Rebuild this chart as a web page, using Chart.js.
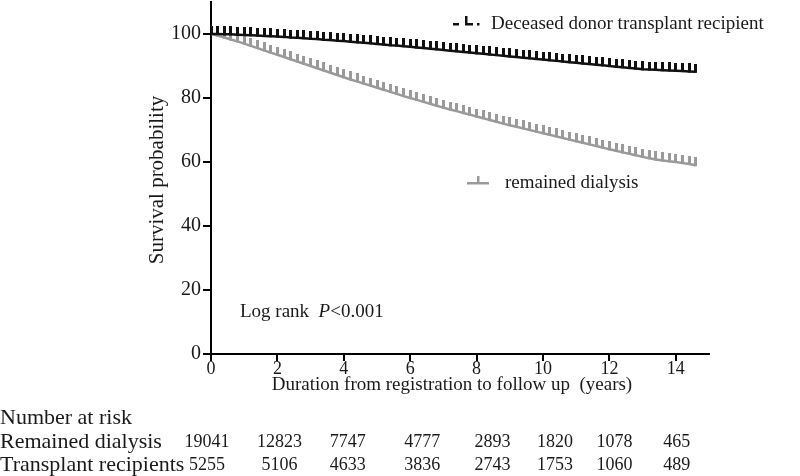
<!DOCTYPE html>
<html>
<head>
<meta charset="utf-8">
<script src="https://cdn.jsdelivr.net/npm/chart.js@4.4.1/dist/chart.umd.min.js"></script>
<style>
html,body{margin:0;padding:0;background:#fff;}
#wrap{width:800px;height:476px;position:relative;}
</style>
</head>
<body>
<div id="wrap"><canvas id="c" width="800" height="476"></canvas></div>
<script>
// ---- data ----
const years = [0,0.2,0.4,0.6,0.8,1.0,1.2,1.4,1.6,1.8,2.0,2.2,2.4,2.6,2.8,3.0,3.2,3.4,3.6,3.8,4.0,4.2,4.4,4.6,4.8,5.0,5.2,5.4,5.6,5.8,6.0,6.2,6.4,6.6,6.8,7.0,7.2,7.4,7.6,7.8,8.0,8.2,8.4,8.6,8.8,9.0,9.2,9.4,9.6,9.8,10.0,10.2,10.4,10.6,10.8,11.0,11.2,11.4,11.6,11.8,12.0,12.2,12.4,12.6,12.8,13.0,13.2,13.4,13.6,13.8,14.0,14.2,14.4,14.6];
const transplantSurvival = [100.0,100.0,99.9,99.9,99.8,99.7,99.6,99.5,99.4,99.3,99.2,99.1,98.9,98.8,98.7,98.5,98.4,98.2,98.1,97.9,97.8,97.6,97.4,97.3,97.1,96.9,96.7,96.5,96.4,96.2,96.0,95.8,95.6,95.4,95.2,95.0,94.8,94.6,94.4,94.2,94.0,93.8,93.6,93.4,93.2,93.0,92.8,92.6,92.4,92.2,92.0,91.8,91.6,91.4,91.2,91.0,90.8,90.6,90.4,90.2,90.0,89.8,89.6,89.4,89.2,89.0,88.9,88.8,88.7,88.6,88.5,88.4,88.3,88.2];
const dialysisSurvival = [100.0,99.5,98.9,98.3,97.7,97.0,96.3,95.6,94.9,94.2,93.5,92.8,92.1,91.4,90.7,90.0,89.3,88.6,87.9,87.2,86.5,85.8,85.2,84.5,83.9,83.2,82.6,81.9,81.3,80.6,80.0,79.4,78.8,78.2,77.6,77.0,76.4,75.9,75.3,74.8,74.2,73.7,73.1,72.6,72.0,71.5,71.0,70.5,70.0,69.5,69.0,68.5,68.0,67.5,67.0,66.5,66.0,65.5,65.0,64.5,64.0,63.5,63.0,62.6,62.1,61.6,61.2,60.8,60.5,60.2,60.0,59.7,59.4,59.0];
const xTicks = [0,2,4,6,8,10,12,14];
const yTicks = [0,20,40,60,80,100];
const atRiskDialysis = [19041,12823,7747,4777,2893,1820,1078,465];
const atRiskTransplant = [5255,5106,4633,3836,2743,1753,1060,489];
const seriesNames = ["Deceased donor transplant recipient","remained dialysis"];
const rowNames = ["Remained dialysis","Transplant recipients"];

// layout-only: horizontal nudges of the at-risk columns relative to their tick (px)
const colNudge = [-4,2,4,12,16,12,5,1];

const FONT = '"Liberation Serif", "Times New Roman", serif';
const TXT = '#1a1a1a';
const BLACK = '#111111';
const GRAY = '#9a9a9a';

function tickImage(color, w, h){
  const cv = document.createElement('canvas');
  cv.width = w; cv.height = h * 2;
  const g = cv.getContext('2d');
  g.fillStyle = color;
  g.fillRect(0, 0, w, h + 1);
  return cv;
}

const pts = (ys) => years.map((x, i) => ({x: x, y: ys[i]}));

const textPlugin = {
  id: 'texts',
  afterDraw(chart){
    const ctx = chart.ctx;
    const xs = chart.scales.x;
    ctx.save();
    ctx.fillStyle = TXT;
    ctx.textBaseline = 'middle';
    // y axis title
    ctx.save();
    ctx.translate(157, 180);
    ctx.rotate(-Math.PI/2);
    ctx.textAlign = 'center';
    ctx.font = '21px ' + FONT;
    ctx.fillText('Survival probability', 0, 0);
    ctx.restore();
    // x axis title
    ctx.textAlign = 'center';
    ctx.font = '19px ' + FONT;
    ctx.fillText('Duration from registration to follow up  (years)', 452, 385);
    // number at risk table
    ctx.font = '22px ' + FONT;
    ctx.textAlign = 'left';
    ctx.fillText('Number at risk', 0, 418);
    ctx.fillText(rowNames[0], 0, 442);
    ctx.fillText(rowNames[1], 0, 465);
    ctx.textAlign = 'center';
    ctx.font = '18px ' + FONT;
    xTicks.forEach((t, i) => {
      const px = xs.getPixelForValue(t) + colNudge[i];
      ctx.fillText(String(atRiskDialysis[i]), px, 442);
      ctx.fillText(String(atRiskTransplant[i]), px, 465);
    });
    // log rank
    ctx.textAlign = 'left';
    ctx.font = '19px ' + FONT;
    let lx = 240;
    ctx.fillText('Log rank  ', lx, 312);
    lx += ctx.measureText('Log rank  ').width;
    ctx.font = 'italic 19px ' + FONT;
    ctx.fillText('P', lx, 312);
    lx += ctx.measureText('P').width;
    ctx.font = '19px ' + FONT;
    ctx.fillText('<0.001', lx, 312);
    // legends
    ctx.font = '19px ' + FONT;
    ctx.fillText(seriesNames[0], 491, 24);
    ctx.fillText(seriesNames[1], 505, 183);
    // legend symbols
    ctx.fillStyle = BLACK;
    ctx.fillRect(453, 23, 6, 2.5);
    ctx.fillRect(465, 16, 2.5, 9);
    ctx.fillRect(465, 23, 8, 2.5);
    ctx.fillRect(477, 23, 2.5, 2.5);
    ctx.fillStyle = GRAY;
    ctx.fillRect(467, 182, 22, 2.5);
    ctx.fillRect(477, 176, 2.5, 7);
    ctx.restore();
  }
};

function zeroPad(s){ s.paddingTop = 0; s.paddingBottom = 0; s.paddingLeft = 0; s.paddingRight = 0; }

new Chart(document.getElementById('c'), {
  type: 'scatter',
  data: {
    datasets: [
      {
        label: seriesNames[0],
        data: pts(transplantSurvival),
        showLine: true,
        borderColor: BLACK,
        borderWidth: 2.5,
        pointStyle: tickImage(BLACK, 3, 8),
        pointRadius: 3,
        tension: 0
      },
      {
        label: seriesNames[1],
        data: pts(dialysisSurvival),
        showLine: true,
        borderColor: GRAY,
        borderWidth: 2.5,
        pointStyle: tickImage(GRAY, 3, 8),
        pointRadius: 3,
        tension: 0
      }
    ]
  },
  options: {
    responsive: false,
    animation: false,
    events: [],
    layout: { autoPadding: false, padding: { left: 0, right: 91, top: 2, bottom: 0 } },
    plugins: { legend: { display: false }, tooltip: { enabled: false } },
    scales: {
      x: {
        type: 'linear',
        min: 0, max: 15,
        afterFit(s){ s.height = 122; zeroPad(s); },
        afterBuildTicks(s){ s.ticks = xTicks.map(v => ({value: v})); },
        border: { display: true, color: '#000', width: 2 },
        grid: { drawOnChartArea: false, drawTicks: true, tickLength: 7, color: '#000', lineWidth: 2 },
        ticks: { color: TXT, font: { family: FONT, size: 18 }, padding: -3, maxRotation: 0 }
      },
      y: {
        type: 'linear',
        min: 0, max: 110,
        afterFit(s){ s.width = 211; zeroPad(s); },
        afterBuildTicks(s){ s.ticks = yTicks.map(v => ({value: v})); },
        border: { display: true, color: '#000', width: 2 },
        grid: { drawOnChartArea: false, drawTicks: true, tickLength: 8, color: '#000', lineWidth: 2 },
        ticks: { color: TXT, font: { family: FONT, size: 20 }, padding: 2 }
      }
    }
  },
  plugins: [textPlugin]
});
</script>
</body>
</html>
